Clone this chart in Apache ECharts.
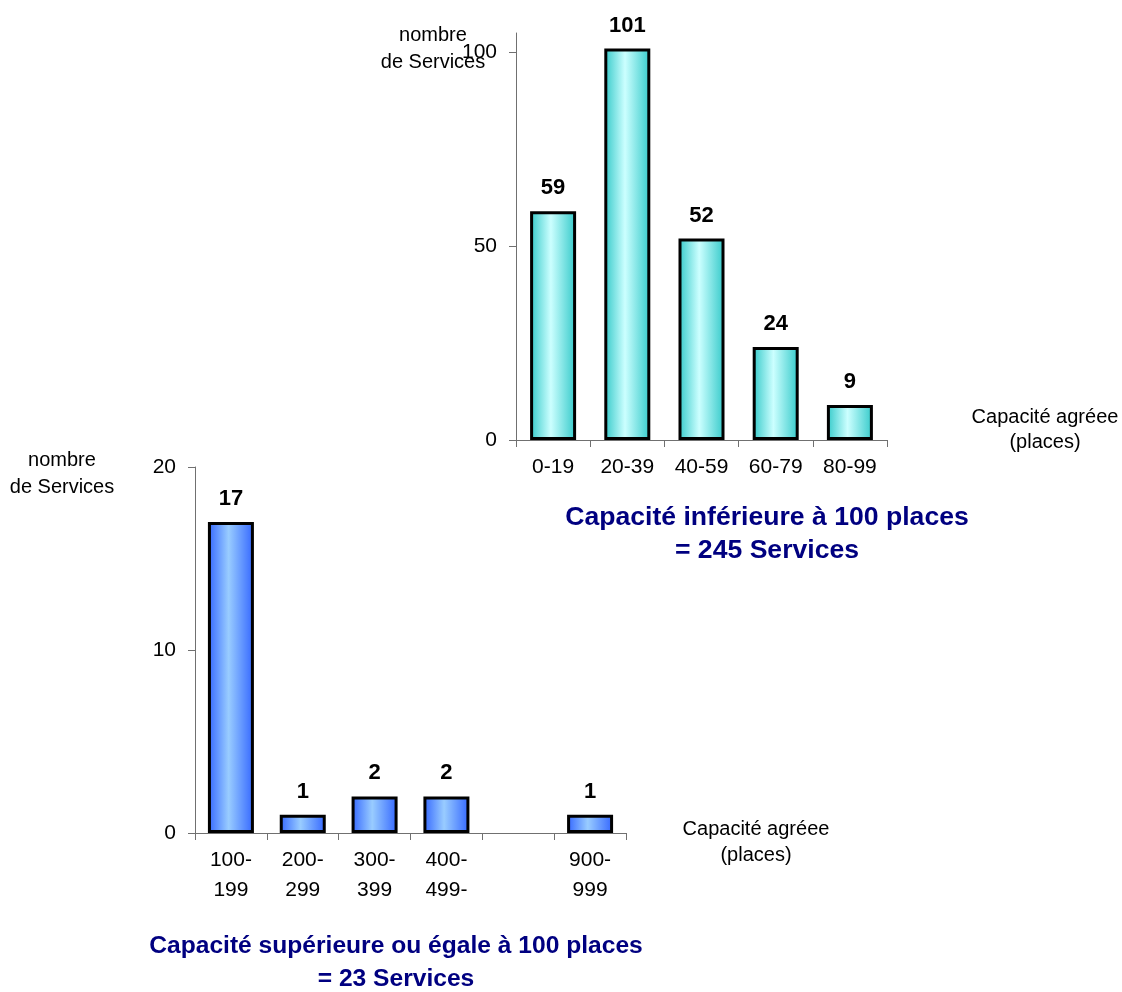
<!DOCTYPE html>
<html>
<head>
<meta charset="utf-8">
<title>Capacité agréée des Services</title>
<script src="https://cdn.jsdelivr.net/npm/echarts@6/dist/echarts.min.js"></script>
<style>
  html, body { margin: 0; padding: 0; background: #ffffff; }
  #chart { width: 1122px; height: 992px; }
</style>
</head>
<body>
<div id="chart"></div>
<script>
// Services with fewer than 100 places
const capacitesPetites = ['0-19', '20-39', '40-59', '60-79', '80-99'];
const servicesPetits = [59, 101, 52, 24, 9];
const ticksPetits = [0, 50, 100];

// Services with 100 places or more (one empty class between 499 and 900)
const capacitesGrandes = ['100-\n199', '200-\n299', '300-\n399', '400-\n499-', '', '900-\n999'];
const servicesGrands = [17, 1, 2, 2, '-', 1];
const ticksGrands = [0, 10, 20];

const FONT = '"Liberation Sans", Arial, Helvetica, sans-serif';
const AXIS_COLOR = '#707070';

function barGradient(edge, centre) {
  return new echarts.graphic.LinearGradient(0, 0, 1, 0, [
    { offset: 0, color: edge },
    { offset: 0.45, color: centre },
    { offset: 1, color: edge }
  ]);
}

function valueAxis(gridIndex, max, interval, ticks) {
  return {
    type: 'value',
    gridIndex: gridIndex,
    min: 0,
    max: max,
    interval: interval,
    splitLine: { show: false },
    axisLine: { show: true, lineStyle: { color: AXIS_COLOR, width: 1 } },
    axisTick: { show: true, length: 7, customValues: ticks, lineStyle: { color: AXIS_COLOR } },
    axisLabel: { customValues: ticks, margin: 19, color: '#000', fontSize: 21, fontFamily: FONT }
  };
}

function categoryAxis(gridIndex, cats) {
  return {
    type: 'category',
    gridIndex: gridIndex,
    data: cats,
    axisLine: { show: true, lineStyle: { color: AXIS_COLOR, width: 1 } },
    axisTick: { show: true, length: 7, interval: 0, lineStyle: { color: AXIS_COLOR } },
    axisLabel: { interval: 0, margin: 12, color: '#000', fontSize: 21, lineHeight: 30, fontFamily: FONT }
  };
}

function barSeries(axisIndex, values, edge, centre, width) {
  return {
    type: 'bar',
    xAxisIndex: axisIndex,
    yAxisIndex: axisIndex,
    data: values,
    barWidth: width,
    itemStyle: { color: barGradient(edge, centre), borderColor: '#000', borderWidth: 3 },
    label: {
      show: true,
      position: 'top',
      distance: 12,
      color: '#000',
      fontWeight: 'bold',
      fontSize: 22,
      fontFamily: FONT
    },
    silent: true
  };
}

function nameText(x, y, text, lineHeight) {
  return {
    type: 'text', x: x, y: y, silent: true,
    style: {
      text: text, fill: '#000', fontSize: 20, fontFamily: FONT,
      align: 'center', verticalAlign: 'middle', lineHeight: lineHeight
    }
  };
}

function titleText(x, y, text, size) {
  return {
    type: 'text', x: x, y: y, silent: true,
    style: {
      text: text, fill: '#000080', fontSize: size, fontWeight: 'bold', fontFamily: FONT,
      align: 'center', verticalAlign: 'middle', lineHeight: 33
    }
  };
}

const chart = echarts.init(document.getElementById('chart'), null, { renderer: 'canvas' });

chart.setOption({
  backgroundColor: '#ffffff',
  animation: false,
  grid: [
    { left: 516, top: 33, width: 371, height: 407 },
    { left: 195, top: 467, width: 431, height: 366 }
  ],
  xAxis: [
    categoryAxis(0, capacitesPetites),
    categoryAxis(1, capacitesGrandes)
  ],
  yAxis: [
    valueAxis(0, 105, 50, ticksPetits),
    valueAxis(1, 20, 10, ticksGrands)
  ],
  series: [
    barSeries(0, servicesPetits, '#33C9C9', '#CCFFFF', 46),
    barSeries(1, servicesGrands, '#3366FF', '#99CCFF', 46)
  ],
  graphic: [
    nameText(433, 49, 'nombre\nde Services', 27),
    nameText(1045, 430, 'Capacité agréee\n(places)', 25),
    nameText(62, 474, 'nombre\nde Services', 27),
    nameText(756, 842, 'Capacité agréee\n(places)', 26),
    titleText(767, 534, 'Capacité inférieure à 100 places\n= 245 Services', 26.6),
    titleText(396, 963, 'Capacité supérieure ou égale à 100 places\n= 23 Services', 24.6)
  ]
});
</script>
</body>
</html>
